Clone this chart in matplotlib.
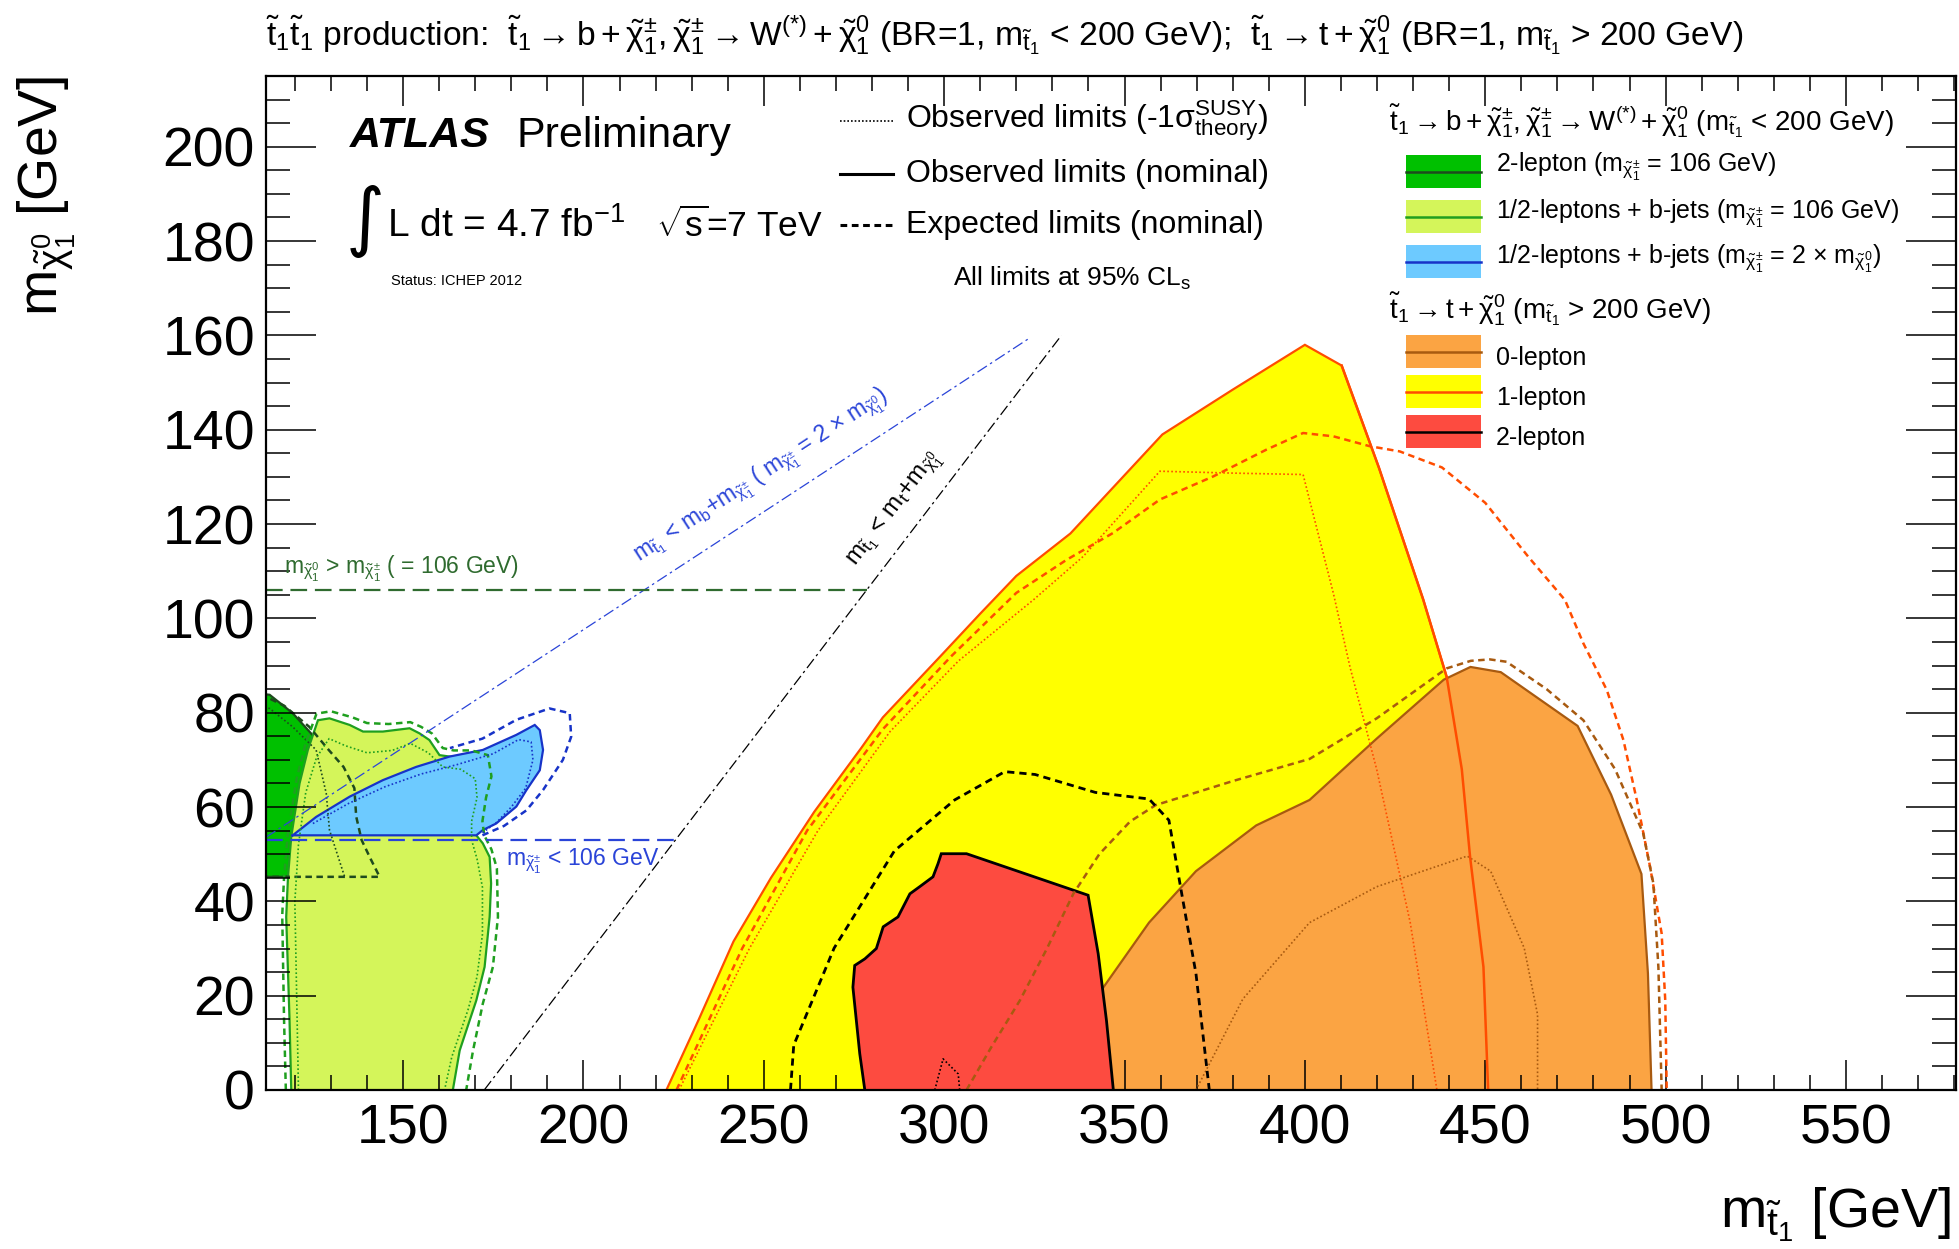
import matplotlib

matplotlib.use("Agg")
import matplotlib.pyplot as plt
from matplotlib.patches import Rectangle
from matplotlib.lines import Line2D
from matplotlib.ticker import MultipleLocator

plt.rcParams["font.family"] = ["Liberation Sans", "DejaVu Sans"]
plt.rcParams["mathtext.fontset"] = "custom"
plt.rcParams["mathtext.rm"] = "Liberation Sans"
plt.rcParams["mathtext.it"] = "Liberation Sans"
plt.rcParams["mathtext.bf"] = "Liberation Sans:bold"
plt.rcParams["mathtext.default"] = "regular"

# ---------------- data (GeV) ----------------
# stop -> b + chargino, 2-lepton (m_chargino = 106 GeV), dark green
G2L_X = [105, 105, 113.0, 119.4, 124.5, 128.7, 131.5, 134.2, 135.2, 134.7, 134.2, 135.6, 137.5, 139.3, 140.2, 105]
G2L_Y = [45.2, 84.5, 83.8, 79.9, 75.6, 71.4, 68.9, 68.2, 65.7, 59.3, 54.4, 53.0, 50.1, 45.9, 45.2, 45.2]
G2L_EXP_X = [105, 117.0, 124.0, 129.5, 133.5, 136.5, 137.0, 138.5, 141.0, 143.5, 105]
G2L_EXP_Y = [86.0, 81.5, 77.0, 72.0, 68.5, 64.0, 58.0, 53.0, 49.0, 45.2, 45.2]
G2L_SIG_X = [105, 113.0, 119.4, 125.9, 128.7, 129.6, 133.8]
G2L_SIG_Y = [82.0, 80.9, 77.0, 72.1, 62.9, 55.1, 45.2]

# 1/2-leptons + b-jets (m_chargino = 106 GeV), light green
G12_X = [119.0, 118.5, 117.6, 118.1, 119.0, 121.3, 123.6, 126.4, 129.6, 135.2, 138.9, 144.4, 151.8, 154.6,
         157.3, 160.1, 162.9, 168.4, 172.1, 173.1, 171.2, 170.3, 170.3, 172.1, 174.0, 174.4, 174.0, 172.6,
         170.3, 165.7, 163.8]
G12_Y = [0.0, 15.5, 36.7, 45.2, 53.7, 65.0, 72.1, 78.4, 78.8, 77.4, 76.0, 76.0, 76.7, 75.6,
         74.2, 71.0, 70.7, 70.7, 69.6, 66.4, 62.2, 57.2, 54.0, 52.3, 49.4, 43.8, 36.7, 26.1,
         19.0, 8.4, 0.0]
G12_EXP_X = [117.5, 117.0, 116.5, 117.0, 118.0, 120.5, 123.0, 126.0, 130.0, 136.0, 140.0, 146.0, 152.0, 155.0,
             158.0, 161.0, 164.0, 169.0, 173.5, 174.5, 173.0, 172.0, 172.5, 174.5, 176.0, 176.3, 174.9, 172.1,
             169.4, 167.5]
G12_EXP_Y = [0.0, 15.0, 37.0, 45.0, 54.0, 66.0, 73.5, 79.8, 80.3, 79.0, 77.8, 77.6, 78.0, 77.0,
             75.6, 72.5, 72.0, 72.0, 71.0, 66.5, 62.0, 57.0, 54.0, 51.0, 47.0, 36.7, 26.1, 18.3,
             8.4, 0.0]
G12_SIG_X = [121.0, 120.5, 120.0, 121.0, 123.0, 126.0, 129.5, 134.0, 140.0, 147.0, 152.0, 157.0, 161.0, 166.0,
             170.0, 170.5, 169.0, 169.0, 170.5, 172.0, 172.0, 170.5, 168.0, 163.5, 161.5]
G12_SIG_Y = [0.0, 20.0, 40.0, 52.0, 63.0, 70.5, 74.5, 73.0, 71.5, 72.0, 73.5, 71.5, 68.5, 68.0,
             66.0, 62.0, 57.0, 53.0, 49.0, 43.0, 33.0, 24.0, 17.0, 7.0, 0.0]

# 1/2-leptons + b-jets (m_chargino = 2 x m_neutralino), light blue
B12_X = [119.4, 170.3, 172.1, 175.8, 181.4, 184.2, 187.9, 188.8, 187.9, 186.5, 181.4, 172.1, 162.9, 153.6,
         144.4, 135.2, 125.9, 119.4]
B12_Y = [54.0, 54.0, 55.1, 56.5, 60.1, 63.6, 67.8, 72.1, 76.3, 77.4, 75.3, 72.1, 70.7, 68.5,
         65.7, 62.2, 57.9, 54.0]
B12_EXP_X = [172.0, 178.0, 184.2, 188.8, 194.3, 196.6, 196.2, 190.6, 181.4, 172.0, 163.0]
B12_EXP_Y = [54.0, 56.0, 59.3, 63.6, 70.0, 74.9, 79.9, 80.9, 78.5, 74.5, 72.5]
B12_SIG_X = [125.0, 135.0, 145.0, 155.0, 165.0, 175.0, 182.0, 185.5, 186.0, 184.0, 180.0, 176.0, 172.0]
B12_SIG_Y = [56.5, 60.8, 64.3, 67.0, 69.0, 71.3, 74.3, 73.8, 70.0, 64.0, 60.0, 56.8, 54.5]

# stop -> t + neutralino, 1-lepton (yellow)
L1_X = [223.0, 232.0, 241.6, 252.0, 264.0, 277.0, 283.0, 299.0, 310.0, 320.0, 335.0, 360.5, 380.0, 400.0,
        410.2, 420.5, 432.8, 439.3, 443.5, 445.8, 449.5, 450.8]
L1_Y = [0.0, 15.0, 31.5, 45.0, 59.0, 72.5, 79.0, 92.0, 101.0, 109.0, 118.0, 139.0, 148.5, 158.0,
        153.6, 132.0, 104.0, 87.6, 68.0, 49.4, 26.1, 0.0]
L1_EXP_X = [225.8, 244.0, 262.0, 283.0, 302.0, 320.0, 333.9, 346.8, 359.8, 374.6, 389.4, 399.5, 407.9, 418.0,
            426.3, 438.0, 450.0, 462.0, 472.1, 477.2, 483.7, 488.3, 492.0, 495.7, 498.9, 499.9, 500.3]
L1_EXP_Y = [0.0, 30.0, 55.0, 76.5, 92.0, 105.4, 112.4, 118.1, 125.2, 130.1, 135.8, 139.3, 138.6, 136.5,
            135.4, 132.0, 124.5, 113.0, 103.9, 94.7, 84.8, 74.2, 61.5, 47.3, 33.2, 19.0, 0.0]
L1_SIG_X = [226.5, 246.0, 265.0, 285.0, 304.0, 324.7, 338.5, 359.8, 380.0, 399.5, 407.9, 412.5, 419.9, 429.2, 436.6]
L1_SIG_Y = [0.0, 30.0, 55.0, 76.0, 91.0, 103.9, 113.1, 131.2, 130.8, 130.5, 105.3, 89.7, 68.0, 35.5, 0.0]

# 0-lepton (orange)
L0_X = [332.6, 333.0, 343.8, 356.8, 369.8, 386.5, 401.3, 419.9, 438.5, 445.9, 454.3, 475.6, 484.9, 493.3,
        495.1, 496.1]
L0_Y = [0.0, 6.3, 21.4, 35.5, 46.4, 56.1, 61.5, 74.5, 87.0, 89.7, 88.6, 77.2, 62.6, 45.8,
        24.7, 0.0]
L0_EXP_X = [306.2, 313.0, 321.0, 328.5, 335.8, 343.0, 351.5, 358.6, 380.0, 401.3, 419.9, 439.3, 446.0, 451.3,
            455.9, 467.0, 477.2, 486.0, 493.8, 496.6, 498.0, 498.9]
L0_EXP_Y = [0.0, 9.0, 19.0, 30.0, 41.6, 50.0, 56.9, 60.4, 65.5, 70.2, 78.8, 89.4, 91.0, 91.3,
            90.8, 85.0, 78.4, 68.0, 54.4, 43.8, 26.0, 0.0]
L0_SIG_X = [369.8, 382.8, 401.3, 419.9, 445.0, 451.5, 460.8, 464.5, 464.5]
L0_SIG_Y = [0.0, 19.3, 35.5, 43.1, 49.6, 46.4, 30.1, 16.0, 0.0]

# 2-lepton (red)
L2_X = [278.0, 276.6, 274.7, 275.2, 278.0, 281.2, 283.1, 287.2, 290.5, 293.2, 296.9, 298.3, 299.2, 306.2,
        339.9, 342.7, 345.0, 346.9]
L2_Y = [0.0, 7.7, 21.8, 26.4, 27.8, 30.0, 34.6, 36.7, 41.6, 43.1, 45.2, 48.0, 50.1, 50.1,
        41.3, 28.9, 14.7, 0.0]
L2_EXP_X = [257.4, 258.3, 269.5, 286.2, 302.9, 316.8, 325.2, 341.9, 356.8, 362.3, 366.0, 369.8, 373.5]
L2_EXP_Y = [0.0, 9.5, 30.1, 50.7, 61.5, 67.5, 66.9, 63.1, 61.7, 57.2, 41.0, 24.7, 0.0]
L2_SIG_X = [297.4, 299.7, 303.9, 304.3]
L2_SIG_Y = [0.0, 6.6, 3.4, 0.0]

# kinematic / mass limit lines
KIN_TOP_X = [172.5, 332.5]
KIN_TOP_Y = [0.0, 160.0]
KIN_B_X = [112.0, 324.0]
KIN_B_Y = [53.6, 159.6]
LIM106_X = [112.0, 278.5]
LIM106_Y = [106.0, 106.0]
LIM53_X = [112.0, 225.5]
LIM53_Y = [53.0, 53.0]

X_RANGE = (112, 580.5)
Y_RANGE = (0, 215)

# ---------------- colours ----------------
C_DKGREEN, C_DKGREEN_L = "#00c000", "#1e4a1e"
C_LTGREEN, C_LTGREEN_L = "#d4f55a", "#1f9f1f"
C_BLUE, C_BLUE_L = "#6dcaff", "#1733c8"
C_YELLOW, C_YELLOW_L = "#ffff00", "#ff4d00"
C_ORANGE, C_ORANGE_L = "#fba443", "#a85a10"
C_RED, C_RED_L = "#fd4b40", "#000000"

W, H = 1959, 1249


def fxy(px, py):
    return px / W, 1 - py / H


def region(ax, xs, ys, face, edge, z, lw=1.6):
    ax.fill(xs, ys, facecolor=face, edgecolor="none", zorder=z)
    ax.plot(xs, ys, color=edge, lw=lw, zorder=z + 0.05, solid_joinstyle="miter")


def dashed(ax, xs, ys, color, z, lw=1.8):
    ax.plot(xs, ys, color=color, lw=lw, dashes=(2.6, 1.8), zorder=z)


def dotted(ax, xs, ys, color, z, lw=1.2):
    ax.plot(xs, ys, color=color, lw=lw, dashes=(1, 1.4), zorder=z)


fig = plt.figure(figsize=(W / 100, H / 100), dpi=100)
ax = fig.add_axes([266 / W, 1 - 1090 / H, (1956 - 266) / W, (1090 - 76) / H])

# left part: stop -> b + chargino
region(ax, G2L_X, G2L_Y, C_DKGREEN, C_DKGREEN_L, 1.0)
region(ax, G12_X, G12_Y, C_LTGREEN, C_LTGREEN_L, 1.1)
region(ax, B12_X, B12_Y, C_BLUE, C_BLUE_L, 1.2)
dashed(ax, G2L_EXP_X, G2L_EXP_Y, C_DKGREEN_L, 1.3)
dotted(ax, G2L_SIG_X, G2L_SIG_Y, C_DKGREEN_L, 1.3)
dashed(ax, G12_EXP_X, G12_EXP_Y, C_LTGREEN_L, 1.3)
dotted(ax, G12_SIG_X, G12_SIG_Y, C_LTGREEN_L, 1.3)
dashed(ax, B12_EXP_X, B12_EXP_Y, C_BLUE_L, 1.3)
dotted(ax, B12_SIG_X, B12_SIG_Y, C_BLUE_L, 1.3)

# right part: stop -> t + neutralino
region(ax, L1_X, L1_Y, C_YELLOW, C_YELLOW_L, 1.4)
region(ax, L0_X, L0_Y, C_ORANGE, C_ORANGE_L, 1.5)
region(ax, L2_X, L2_Y, C_RED, C_RED_L, 1.6, lw=2.0)
dotted(ax, L1_SIG_X, L1_SIG_Y, C_YELLOW_L, 1.7)
dashed(ax, L1_EXP_X, L1_EXP_Y, C_YELLOW_L, 1.7)
dotted(ax, L0_SIG_X, L0_SIG_Y, C_ORANGE_L, 1.7)
dashed(ax, L0_EXP_X, L0_EXP_Y, C_ORANGE_L, 1.7)
dotted(ax, L2_SIG_X, L2_SIG_Y, C_RED_L, 1.7)
dashed(ax, L2_EXP_X, L2_EXP_Y, C_RED_L, 1.7, lw=2.0)
ax.plot(L1_X[-8:], L1_Y[-8:], color=C_YELLOW_L, lw=1.8, zorder=1.75)

# kinematic lines
ax.plot(KIN_TOP_X, KIN_TOP_Y, color="black", lw=0.9, dashes=(9, 3, 2, 3), zorder=1.8)
ax.plot(KIN_B_X, KIN_B_Y, color="#2a44d8", lw=0.9, dashes=(9, 3, 2, 3), zorder=1.8)
ax.plot(LIM106_X, LIM106_Y, color="#2f6b2f", lw=1.6, dashes=(7.5, 3.5), zorder=1.8)
ax.plot(LIM53_X, LIM53_Y, color="#2a44d8", lw=1.6, dashes=(7.5, 3.5), zorder=1.8)

ax.text(117, 109.5, r"m$_{\tilde{\chi}^{0}_{1}}$ > m$_{\tilde{\chi}^{\pm}_{1}}$ ( = 106 GeV)",
        color="#2f6b2f", fontsize=16.5, ha="left", va="baseline", zorder=3)
ax.text(178.5, 47.5, r"m$_{\tilde{\chi}^{\pm}_{1}}$ < 106 GeV", color="#2a44d8",
        fontsize=16.5, ha="left", va="baseline", zorder=3)
ax.text(215.5, 112.0,
        r"m$_{\tilde{t}_{1}}$ < m$_{b}$+m$_{\tilde{\chi}^{\pm}_{1}}$ ( m$_{\tilde{\chi}^{\pm}_{1}}$ = 2 $\times$ m$_{\tilde{\chi}^{0}_{1}}$)",
        color="#2a44d8", fontsize=16.5, rotation=26.57, transform_rotates_text=True,
        rotation_mode="anchor", ha="left", va="baseline", zorder=3)
ax.text(275.5, 111.0, r"m$_{\tilde{t}_{1}}$ < m$_{t}$+m$_{\tilde{\chi}^{0}_{1}}$",
        color="black", fontsize=17.5, rotation=45, transform_rotates_text=True,
        rotation_mode="anchor", ha="left", va="baseline", zorder=3)

# axes cosmetics (ROOT style)
ax.set_xlim(*X_RANGE)
ax.set_ylim(*Y_RANGE)
ax.xaxis.set_major_locator(MultipleLocator(50))
ax.xaxis.set_minor_locator(MultipleLocator(10))
ax.yaxis.set_major_locator(MultipleLocator(20))
ax.yaxis.set_minor_locator(MultipleLocator(5))
ax.tick_params(axis="both", which="both", direction="in", top=True, right=True, width=1.1)
ax.tick_params(axis="x", which="major", length=21.5, labelsize=40, pad=10)
ax.tick_params(axis="x", which="minor", length=11)
ax.tick_params(axis="y", which="major", length=36, labelsize=40, pad=8)
ax.tick_params(axis="y", which="minor", length=17.5)
for s in ax.spines.values():
    s.set_linewidth(1.6)

fig.text(*fxy(1951, 1215), r"m$_{\tilde{t}_{1}}$ [GeV]", fontsize=40, ha="right", va="center")
fig.text(*fxy(47, 76), r"m$_{\tilde{\chi}^{0}_{1}}$ [GeV]", fontsize=40, rotation=90,
         ha="center", va="top")

# title
fig.text(*fxy(266, 46),
         r"$\tilde{t}_{1}\tilde{t}_{1}$ production:  $\tilde{t}_{1}\rightarrow b+\tilde{\chi}^{\pm}_{1},\tilde{\chi}^{\pm}_{1}\rightarrow W^{(*)}+\tilde{\chi}^{0}_{1}$ (BR=1, m$_{\tilde{t}_{1}}$ < 200 GeV);  $\tilde{t}_{1}\rightarrow t+\tilde{\chi}^{0}_{1}$ (BR=1, m$_{\tilde{t}_{1}}$ > 200 GeV)",
         fontsize=24.2, ha="left", va="baseline")

# ATLAS label block
fig.text(*fxy(350, 147), "ATLAS", fontsize=31, fontweight="bold", fontstyle="italic",
         ha="left", va="baseline")
fig.text(*fxy(516, 147), "Preliminary", fontsize=31, ha="left", va="baseline")
fig.text(*fxy(346, 222), "\u222b", fontsize=54, family="DejaVu Sans", ha="left", va="center")
fig.text(*fxy(387, 237), r"L dt = 4.7 fb$^{-1}$", fontsize=28, ha="left", va="baseline")
fig.text(*fxy(656, 237), r"$\sqrt{s}$=7 TeV", fontsize=25.5, ha="left", va="baseline")
fig.text(*fxy(391, 285), "Status: ICHEP 2012", fontsize=10.5, ha="left", va="baseline")

# line style legend
style_rows = [
    ((1, 1.2), 1.2, r"Observed limits (-1$\sigma^{SUSY}_{theory}$)", 121),
    (None, 2.2, "Observed limits (nominal)", 174),
    ((2.2, 1.5), 2.2, "Expected limits (nominal)", 225),
]
for dash, lw, label, py in style_rows:
    x0, y0 = fxy(840, py)
    x1, _ = fxy(893, py)
    ln = Line2D([x0, x1], [y0, y0], transform=fig.transFigure, color="black", lw=lw)
    if dash:
        ln.set_dashes(dash)
    fig.add_artist(ln)
    fig.text(*fxy(906, py), label, fontsize=23, ha="left", va="center")
fig.text(*fxy(1072, 278), r"All limits at 95% CL$_{s}$", fontsize=19, ha="center", va="center")

# region legend
fig.text(*fxy(1389, 130),
         r"$\tilde{t}_{1}\rightarrow b+\tilde{\chi}^{\pm}_{1},\tilde{\chi}^{\pm}_{1}\rightarrow W^{(*)}+\tilde{\chi}^{0}_{1}$ (m$_{\tilde{t}_{1}}$ < 200 GeV)",
         fontsize=20, ha="left", va="baseline")
fig.text(*fxy(1389, 318),
         r"$\tilde{t}_{1}\rightarrow t+\tilde{\chi}^{0}_{1}$ (m$_{\tilde{t}_{1}}$ > 200 GeV)",
         fontsize=20, ha="left", va="baseline")
legend_rows = [
    (C_DKGREEN, C_DKGREEN_L, r"2-lepton (m$_{\tilde{\chi}^{\pm}_{1}}$ = 106 GeV)", 155, 172),
    (C_LTGREEN, C_LTGREEN_L, r"1/2-leptons + b-jets (m$_{\tilde{\chi}^{\pm}_{1}}$ = 106 GeV)", 200, 219),
    (C_BLUE, C_BLUE_L, r"1/2-leptons + b-jets (m$_{\tilde{\chi}^{\pm}_{1}}$ = 2 $\times$ m$_{\tilde{\chi}^{0}_{1}}$)", 245, 264),
    (C_ORANGE, C_ORANGE_L, "0-lepton", 335, 365),
    (C_YELLOW, C_YELLOW_L, "1-lepton", 375, 405),
    (C_RED, C_RED_L, "2-lepton", 415, 445),
]
for face, edge, label, top, base in legend_rows:
    bx, by = fxy(1406, top + 33)
    fig.add_artist(Rectangle((bx, by), 75 / W, 33 / H, transform=fig.transFigure,
                             facecolor=face, edgecolor="none"))
    lx0, ly = fxy(1406, top + 16.5)
    lx1, _ = fxy(1481, top + 16.5)
    fig.add_artist(Line2D([lx0, lx1], [ly, ly], transform=fig.transFigure, color=edge, lw=1.8))
    fig.text(*fxy(1496, base), label, fontsize=18, ha="left", va="baseline")

fig.savefig("out.png", dpi=100)
